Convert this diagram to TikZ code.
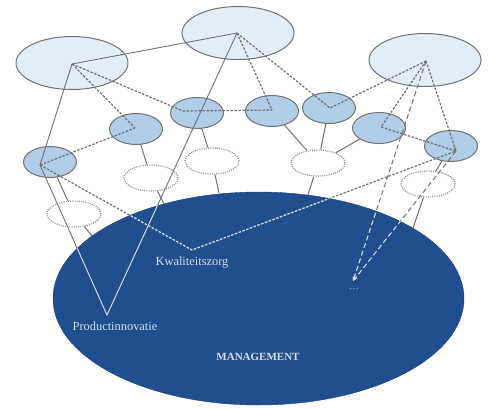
\documentclass[tikz,border=0pt]{standalone}
\usepackage{fontspec}
\setmainfont{Liberation Serif}
\usetikzlibrary{arrows.meta,positioning,shapes.geometric}
\definecolor{linegray}{RGB}{112,112,112}
\definecolor{paleline}{RGB}{214,222,236}
\definecolor{toplevel}{RGB}{226,237,248}
\definecolor{midlevel}{RGB}{178,205,232}
\definecolor{mgmtblue}{RGB}{32,78,142}
\colorlet{linkcol}{linegray}

% long links between the hubs, drawn twice (grey, then pale inside the management ellipse)
\newcommand{\netlinks}{%
  \draw[solidlink] (g1h) -- (g2h);
  \draw[solidlink] (g1h) -- (u1h) -- (prod) -- (g2h);
  \draw[dashlink] (g1h) -- (u2h);
  \draw[dashlink] (u1h) -- (u2h);
  \draw[dashlink] (g1h) -- (u3h) -- (u4h);
  \draw[dashlink] (g2h) -- (u4h);
  \draw[dashlink] (g2h) -- (u5h) -- (g3h);
  \draw[dashlink] (g3h) -- (u6h) -- (u7h);
  \draw[dashlink, -{Stealth[length=4pt,width=3pt]}] (g3h) -- (u7h);
  \draw[dashlink] (u1h) -- (qual) -- (u7h);
  \draw[longdash, -{Stealth[length=5pt,width=3.5pt]}] (g3h) -- (dt);
  \draw[longdash, -{Stealth[length=5pt,width=3.5pt]}] (u7h) -- (dt);
}

\begin{document}
\begin{tikzpicture}[x=1pt, y=-1pt,
  goalnode/.style={ellipse, draw=linegray, line width=1pt, fill=toplevel, minimum width=112pt, minimum height=53pt, inner sep=0pt},
  unitnode/.style={ellipse, draw=linegray, line width=1pt, fill=midlevel, minimum width=53pt, minimum height=31pt, inner sep=0pt},
  tasknode/.style={ellipse, draw=linegray!80, line width=1.2pt, dash pattern=on 1pt off 1.2pt, fill=white, minimum width=54pt, minimum height=26pt, inner sep=0pt},
  tasklink/.style={draw=linegray, line width=1pt},
  solidlink/.style={draw=linkcol, line width=0.9pt},
  dashlink/.style={draw=linkcol, line width=1.2pt, dash pattern=on 2.5pt off 1.5pt},
  longdash/.style={draw=linkcol, line width=1pt, dash pattern=on 5pt off 3pt},
  inlabel/.style={text=paleline, font=\fontsize{12.4}{14}\selectfont, inner sep=1pt},
]
\useasboundingbox (0,0) rectangle (489,408);

% Management
\node[ellipse, fill=mgmtblue, draw=mgmtblue!80!black, minimum width=411pt, minimum height=213pt, inner sep=0pt] (mgmt) at (258.5,298.5) {};

% Goals
\node[goalnode] (g1) at (72,63) {};
\node[goalnode] (g2) at (238,33) {};
\node[goalnode] (g3) at (425,60) {};

% Units
\node[unitnode] (u1) at (50,162) {};
\node[unitnode] (u2) at (136,129) {};
\node[unitnode] (u3) at (197,113) {};
\node[unitnode] (u4) at (272,111) {};
\node[unitnode] (u5) at (329,108) {};
\node[unitnode] (u6) at (379,128) {};
\node[unitnode] (u7) at (451,146) {};

% Tasks
\node[tasknode] (t1) at (151,178) {};
\node[tasknode] (t2) at (212,161) {};
\node[tasknode] (t3) at (318,163) {};
\node[tasknode] (t4) at (428,184) {};
\node[tasknode] (t5) at (74,214) {};

% Hubs
\coordinate (g1h) at (72,64);
\coordinate (g2h) at (237,33);
\coordinate (g3h) at (426,61);
\coordinate (u1h) at (40,165);
\coordinate (u2h) at (135,128);
\coordinate (u3h) at (183,111);
\coordinate (u4h) at (272,110);
\coordinate (u5h) at (330,108);
\coordinate (u6h) at (381,127);
\coordinate (u7h) at (456,151);
\coordinate (qual) at (192,250);
\coordinate (prod) at (107,315);
\coordinate (dt) at (353,281);
\coordinate (m1) at (164,204);
\coordinate (m2) at (219,193);
\coordinate (m3) at (308,195);
\coordinate (m4) at (413,228);
\coordinate (m5) at (92,236);

% Units to tasks to management
\draw[tasklink] (u1) -- (t5) -- (m5);
\draw[tasklink] (u2) -- (t1) -- (m1);
\draw[tasklink] (u3) -- (t2) -- (m2);
\draw[tasklink] (u4) -- (t3);
\draw[tasklink] (u5) -- (t3);
\draw[tasklink] (u6) -- (t3) -- (m3);
\draw[tasklink] (u7) -- (t4) -- (m4);

\netlinks
\begin{scope}
  \colorlet{linkcol}{paleline}
  \clip (258.5,298.5) ellipse [x radius=205.5, y radius=106.5];
  \netlinks
\end{scope}

% Labels
\node[inlabel, below=6pt of qual] (qlabel) {Kwaliteitszorg};
\node[inlabel, below=6pt of prod, xshift=8pt] (plabel) {Productinnovatie};
\node[inlabel, font=\fontsize{11}{13}\selectfont\bfseries] (mlabel) at (258,357) {MANAGEMENT};
\node[inlabel, font=\small] (dlabel) at (354,289) {.\kern1pt.\kern1pt.};
\end{tikzpicture}
\end{document}
